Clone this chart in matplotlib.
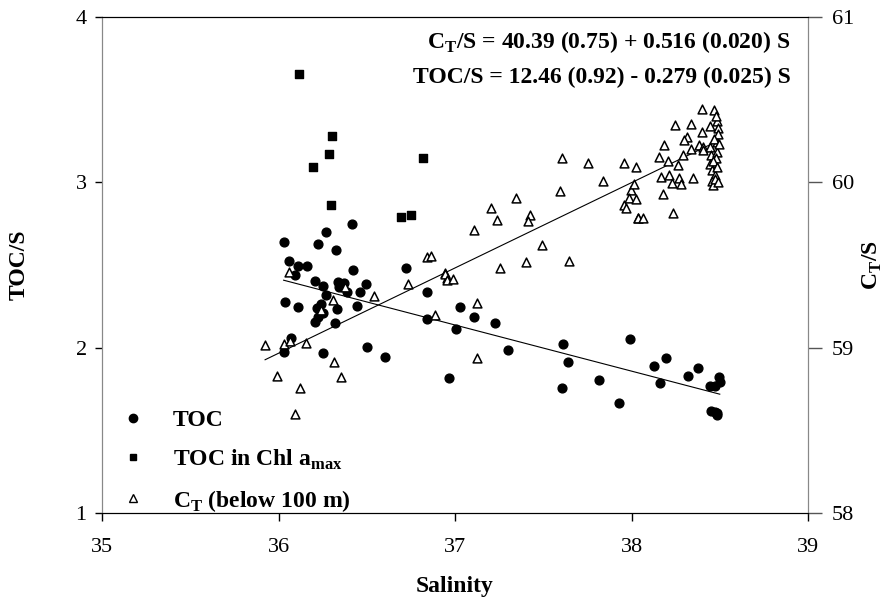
import matplotlib
matplotlib.use("Agg")
import matplotlib.pyplot as plt
import numpy as np
from matplotlib.lines import Line2D

plt.rcParams['font.family'] = ['Liberation Serif', 'DejaVu Serif']
plt.rcParams['mathtext.fontset'] = 'custom'
plt.rcParams['mathtext.rm'] = 'Liberation Serif'
plt.rcParams['mathtext.bf'] = 'Liberation Serif:bold'

# TOC/S (filled circles)
toc_sal = [36.418, 36.267, 36.029, 36.226, 36.326, 36.058, 36.109, 36.161, 36.095, 36.424,
           36.721, 36.209, 36.252, 36.339, 36.373, 36.345, 36.388, 36.498, 36.464, 36.267,
           36.839, 36.037, 36.112, 36.239, 36.218, 36.331, 36.447, 36.250, 36.226, 36.205,
           36.320, 36.839, 36.073, 36.029, 36.250, 36.503, 36.603, 36.968,
           37.028, 37.108, 37.228, 37.004, 37.299, 37.610, 37.640, 37.606, 37.818, 37.929,
           37.990, 38.127, 38.197, 38.161, 38.318, 38.375, 38.445, 38.473, 38.494, 38.500,
           38.449, 38.473, 38.483, 38.486]
toc_val = [2.748, 2.701, 2.637, 2.625, 2.589, 2.524, 2.494, 2.492, 2.439, 2.471,
           2.480, 2.405, 2.374, 2.395, 2.393, 2.365, 2.338, 2.385, 2.335, 2.318,
           2.336, 2.278, 2.244, 2.264, 2.240, 2.234, 2.250, 2.209, 2.183, 2.155,
           2.151, 2.173, 2.056, 1.972, 1.967, 2.004, 1.943, 1.814,
           2.244, 2.185, 2.151, 2.111, 1.986, 2.024, 1.915, 1.758, 1.802, 1.663,
           2.054, 1.891, 1.939, 1.784, 1.828, 1.878, 1.768, 1.770, 1.820, 1.794,
           1.617, 1.612, 1.592, 1.606]

# TOC/S in Chl a max (filled squares)
chl_sal = [36.118, 36.301, 36.284, 36.194, 36.299, 36.819, 36.696, 36.751]
chl_val = [3.655, 3.278, 3.169, 3.094, 2.864, 3.149, 2.788, 2.804]

# CT/S below 100 m (open triangles)
ct_sal = [36.061, 36.841, 36.864, 36.945, 36.953, 36.734, 36.543, 36.377, 36.310, 36.241,
          36.887, 35.924, 36.033, 36.065, 36.154, 36.314, 35.993, 36.352, 36.124, 36.095,
          37.606, 37.755, 37.956, 38.025, 37.837, 37.597, 37.347, 37.204, 37.236, 37.427,
          37.416, 37.106, 37.495, 37.255, 37.404, 37.646, 36.943, 36.956, 36.987, 37.125,
          37.125, 37.995, 37.986, 38.025, 37.956, 37.967, 38.035,
          38.398, 38.469, 38.246, 38.337, 38.399, 38.445, 38.483, 38.488, 38.313, 38.300,
          38.184, 38.382, 38.335, 38.403, 38.445, 38.483, 38.158, 38.209, 38.290, 38.265,
          38.407, 38.449, 38.483, 38.479, 38.445, 38.454, 38.473, 38.454, 38.460, 38.165,
          38.214, 38.267, 38.228, 38.282, 38.346, 38.177, 38.237, 38.014, 38.039, 38.067,
          38.478, 38.490, 38.470, 38.495, 38.462, 38.486, 38.475, 38.492]
ct_val = [59.459, 59.546, 59.556, 59.449, 59.419, 59.385, 59.312, 59.365, 59.288, 59.228,
          59.197, 59.018, 59.020, 59.040, 59.026, 58.911, 58.826, 58.820, 58.756, 58.598,
          60.149, 60.115, 60.117, 60.091, 60.006, 59.947, 59.905, 59.846, 59.770, 59.800,
          59.764, 59.711, 59.619, 59.483, 59.518, 59.522, 59.445, 59.409, 59.415, 59.268,
          58.935, 59.953, 59.903, 59.899, 59.861, 59.843, 59.784,
          60.443, 60.439, 60.347, 60.355, 60.306, 60.342, 60.373, 60.327, 60.276, 60.256,
          60.226, 60.226, 60.200, 60.215, 60.215, 60.246, 60.155, 60.129, 60.165, 60.105,
          60.195, 60.165, 60.185, 60.145, 60.109, 60.074, 60.044, 60.008, 59.984, 60.034,
          60.044, 60.028, 59.994, 59.988, 60.024, 59.927, 59.812, 59.988, 59.782, 59.782,
          60.400, 60.290, 60.260, 60.230, 60.130, 60.090, 60.020, 60.000]

# regression coefficients (from the equations on the chart)
toc_a, toc_b = 12.46, -0.279
ct_a, ct_b = 40.39, 0.516

fig = plt.figure(figsize=(8.9, 6.04), dpi=100)
ax = fig.add_axes([0.1146, 0.1507, 0.7933, 0.8212])
ax2 = ax.twinx()

ax.scatter(toc_sal, toc_val, s=40, marker='o', color='black', zorder=3)
ax.scatter(chl_sal, chl_val, s=28, marker='s', color='black', zorder=3)
ax2.scatter(ct_sal, ct_val, s=40, marker='^', facecolor='white', edgecolor='black',
            linewidths=1.1, zorder=3)

xs = np.array([min(toc_sal), max(toc_sal)])
ax.plot(xs, toc_a + toc_b * xs, color='black', lw=0.8)
xc = np.array([min(ct_sal), max(ct_sal)])
ax2.plot(xc, ct_a + ct_b * xc, color='black', lw=0.8)

ax.set_xlim(35, 39)
ax.set_ylim(1, 4)
ax2.set_ylim(58, 61)
ax.set_xticks([35, 36, 37, 38, 39])
ax.set_yticks([1, 2, 3, 4])
ax2.set_yticks([58, 59, 60, 61])

for a in (ax, ax2):
    a.spines['left'].set_color('#888888')
    a.spines['right'].set_color('#888888')
    a.spines['top'].set_color('black')
    a.spines['bottom'].set_color('black')
ax.tick_params(axis='x', direction='out', length=6, width=1, pad=12, labelsize=16)
ax.tick_params(axis='y', direction='out', length=5, width=1, pad=6, labelsize=16)
ax2.tick_params(axis='y', direction='out', length=10, width=1, color='#555555',
                pad=7, labelsize=16)

ax.set_xlabel('Salinity', fontsize=17, fontweight='bold', labelpad=14)
ax.set_ylabel('TOC/S', fontsize=17, fontweight='bold', labelpad=33)
ax2.set_ylabel(r'C$_{\mathbf{T}}$/S', fontsize=17, fontweight='bold', labelpad=5)

ax.text(0.975, 0.95, r'C$_{\mathbf{T}}$/S = 40.39 (0.75) + 0.516 (0.020) S',
        transform=ax.transAxes, ha='right', va='center', fontsize=17, fontweight='bold')
ax.text(0.975, 0.879, 'TOC/S = 12.46 (0.92) - 0.279 (0.025) S',
        transform=ax.transAxes, ha='right', va='center', fontsize=17, fontweight='bold')

handles = [
    Line2D([], [], ls='', marker='o', color='black', markersize=6),
    Line2D([], [], ls='', marker='s', color='black', markersize=5),
    Line2D([], [], ls='', marker='^', markerfacecolor='white', markeredgecolor='black',
           markersize=6),
]
labels = ['TOC', r'TOC in Chl a$_{\mathbf{max}}$', r'C$_{\mathbf{T}}$ (below 100 m)']
leg = ax.legend(handles, labels, loc='lower left', bbox_to_anchor=(-0.01, -0.025),
                frameon=False, prop={'size': 17, 'weight': 'bold'}, handlelength=2.2,
                handletextpad=0.6, labelspacing=0.68, borderaxespad=0.1)

fig.savefig('out.png', dpi=100)
